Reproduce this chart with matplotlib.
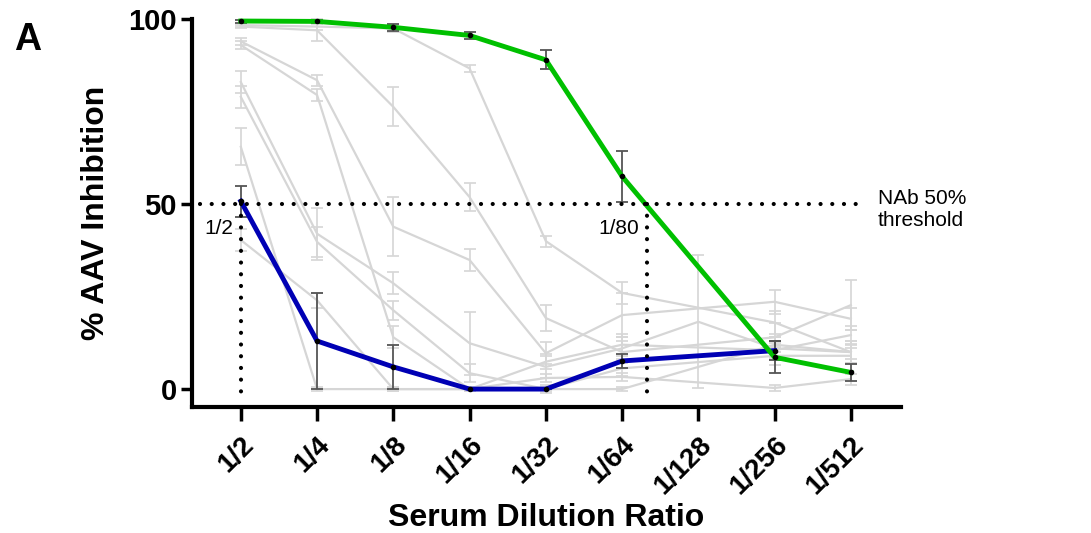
import numpy as np
import matplotlib
matplotlib.use("Agg")
import matplotlib.pyplot as plt

plt.rcParams["font.family"] = ["Liberation Sans", "DejaVu Sans"]

# ---- data ----
dilutions = ["1/2", "1/4", "1/8", "1/16", "1/32", "1/64", "1/128", "1/256", "1/512"]
nan = np.nan

green = [99.5, 99.4, 97.8, 95.6, 89.0, 57.5, nan, 8.6, 4.5]
green_err = [0.4, 0.4, 1.0, 1.0, 2.6, 7.0, nan, 4.3, 2.3]

blue = [50.8, 13.0, 6.0, 0.0, 0.0, 7.6, nan, 10.4, nan]
blue_err = [4.2, 13.0, 6.0, 0.0, 0.0, 2.0, nan, 2.5, nan]

gray_series = [
    [98.4, 98.0, 97.5, 86.7, 40.0, 26.0, nan, 18.0, 10.0],
    [98.0, 97.0, 76.3, 51.9, 19.2, 10.0, nan, 14.0, 22.7],
    [94.0, 83.5, 43.9, 34.9, 9.7, 20.0, nan, 23.6, 19.0],
    [93.0, 79.5, 14.0, 0.0, 7.4, 12.0, nan, 10.5, 14.6],
    [83.0, 42.0, 28.6, 12.4, 6.0, 11.0, 18.2, 11.0, 10.0],
    [79.0, 39.8, 21.3, 4.3, 0.0, 5.6, nan, 9.0, 9.0],
    [65.5, 0.0, 0.0, 0.0, 3.0, 3.3, nan, 0.3, 2.7],
    [40.3, 24.0, 0.0, 0.0, 0.0, 0.0, nan, 12.0, 10.0],
]
gray_errs = [
    [0.5, 0.8, 1.0, 1.0, 1.5, 3.0, nan, 3.0, 3.0],
    [0.5, 3.0, 5.3, 3.8, 3.5, 3.0, nan, 4.0, 6.8],
    [1.0, 1.5, 8.0, 3.0, 3.0, 6.0, nan, 3.2, 3.0],
    [1.0, 1.5, 3.0, 0.5, 2.0, 3.0, nan, 2.0, 2.5],
    [3.0, 7.0, 3.0, 8.5, 3.0, 3.0, 18.0, 3.0, 3.0],
    [3.0, 4.0, 2.5, 2.5, 1.0, 2.0, nan, 2.5, 2.0],
    [5.0, 0.5, 0.5, 0.5, 1.0, 1.0, nan, 0.8, 1.5],
    [3.0, 2.0, 0.5, 0.5, 0.5, 0.5, nan, 2.0, 2.0],
]

threshold = 50
titer_x = 5 + np.log2(80 / 64)  # 1/80 on the log2 dilution axis

GRAY = "#d6d6d6"
GREEN = "#00c000"
BLUE = "#0000b4"
ERR = "#555555"


def plot_series(ax, y, err, color, lw, ecolor, elw, zorder, dots=False):
    y = np.asarray(y, float)
    err = np.asarray(err, float)
    x = np.arange(len(y))
    m = ~np.isnan(y)
    ax.errorbar(x[m], y[m], yerr=err[m], color=color, lw=lw, ecolor=ecolor,
                elinewidth=elw, capsize=4, capthick=elw, zorder=zorder,
                clip_on=False)
    if dots:
        ax.plot(x[m], y[m], "o", color="black", ms=3, zorder=zorder + 1,
                clip_on=False)


fig = plt.figure(figsize=(10.91, 5.33), dpi=100)
ax = fig.add_axes([0.176, 0.236, 0.650, 0.728])

for y, e in zip(gray_series, gray_errs):
    plot_series(ax, y, e, GRAY, 1.6, GRAY, 1.2, 2)

plot_series(ax, blue, blue_err, BLUE, 3.5, ERR, 1.3, 4, dots=True)
plot_series(ax, green, green_err, GREEN, 3.5, ERR, 1.3, 4, dots=True)

dot = dict(color="black", lw=3, linestyle=(0, (0.01, 2.8)),
           dash_capstyle="round", zorder=5, clip_on=False)
ax.plot([-0.54, 8.08], [threshold, threshold], **dot)
ax.plot([0, 0], [threshold, -3.2], **dot)
ax.plot([titer_x, titer_x], [threshold, -2.4], **dot)

ax.text(-0.10, 43.5, "1/2", ha="right", va="center", fontsize=15)
ax.text(titer_x - 0.1, 43.5, "1/80", ha="right", va="center", fontsize=15)
ax.text(8.35, 54.0, "NAb 50%\nthreshold", ha="left", va="top", fontsize=15,
        linespacing=1.2, clip_on=False)

ax.set_xlim(-0.64, 8.66)
ax.set_ylim(-4.9, 100)
ax.set_yticks([0, 50, 100])
ax.set_xticks(np.arange(len(dilutions)))
ax.set_xticklabels(dilutions, rotation=45, ha="right", rotation_mode="anchor",
                   fontsize=20, fontweight="bold")
for lab in ax.get_yticklabels():
    lab.set_fontsize(21)
    lab.set_fontweight("bold")
ax.tick_params(axis="y", length=8, width=2.5, pad=3)
ax.tick_params(axis="x", length=10, width=2.5, pad=8)

for side in ("top", "right"):
    ax.spines[side].set_visible(False)
for side in ("left", "bottom"):
    ax.spines[side].set_linewidth(3)

ax.set_ylabel("% AAV Inhibition", fontsize=23, fontweight="bold", labelpad=12)
ax.set_xlabel("Serum Dilution Ratio", fontsize=23, fontweight="bold", labelpad=2)

fig.text(0.013, 0.925, "A", fontsize=27, fontweight="bold", va="center")

fig.savefig("out.png", dpi=100)
